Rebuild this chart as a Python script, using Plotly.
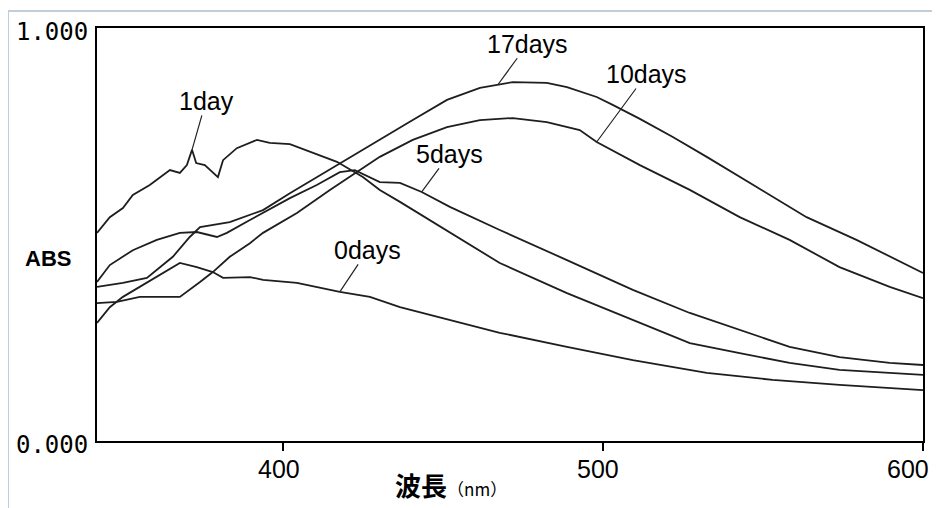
import numpy as np
import plotly.graph_objects as go

# ---- data (wavelength nm, ABS) ----
wl_0days = [341.8, 345.8, 349.9, 360.5, 367.7, 373.0, 378.0, 381.2, 389.6, 393.7, 404.3,
            417.7, 427.1, 436.5, 452.1, 467.7, 488.7, 509.3, 532.4, 553.0, 573.9, 589.6, 600.0]
abs_0days = [0.286, 0.324, 0.349, 0.397, 0.431, 0.421, 0.409, 0.395, 0.397, 0.390, 0.383,
             0.361, 0.349, 0.324, 0.293, 0.262, 0.228, 0.196, 0.165, 0.148, 0.136, 0.128, 0.123]

wl_1day = [341.8, 345.8, 349.9, 353.0, 358.3, 364.6, 367.7, 369.9, 371.5, 372.8, 375.5, 379.6,
           381.2, 385.5, 391.8, 395.8, 402.1, 409.3, 416.8, 424.9, 430.2, 436.5, 452.1, 467.7,
           488.7, 509.3, 527.1, 542.7, 558.3, 573.9, 589.6, 600.0]
abs_1day = [0.504, 0.542, 0.564, 0.596, 0.620, 0.656, 0.649, 0.668, 0.705, 0.673, 0.668, 0.639,
            0.680, 0.709, 0.729, 0.722, 0.719, 0.697, 0.676, 0.639, 0.608, 0.579, 0.504, 0.431,
            0.358, 0.293, 0.237, 0.213, 0.189, 0.172, 0.165, 0.160]

wl_5days = [341.8, 345.8, 353.0, 360.5, 367.7, 373.0, 379.3, 382.4, 389.6, 393.7, 402.1, 410.5,
            417.7, 422.4, 430.2, 436.5, 443.3, 452.1, 467.7, 488.7, 509.3, 527.1, 542.7, 558.3,
            573.9, 589.6, 600.0]
abs_5days = [0.385, 0.426, 0.462, 0.487, 0.504, 0.506, 0.494, 0.504, 0.535, 0.552, 0.588, 0.620,
             0.651, 0.656, 0.627, 0.625, 0.603, 0.567, 0.511, 0.438, 0.366, 0.310, 0.269, 0.228,
             0.203, 0.189, 0.184]

wl_10days = [341.8, 348.0, 355.2, 367.7, 374.0, 378.0, 383.3, 389.6, 393.7, 404.3, 414.6, 420.8,
             430.2, 440.5, 451.2, 461.5, 471.8, 482.4, 492.7, 498.0, 511.5, 527.1, 542.7, 558.3,
             573.9, 589.6, 600.0]
abs_10days = [0.334, 0.337, 0.349, 0.349, 0.385, 0.409, 0.446, 0.479, 0.504, 0.552, 0.608, 0.639,
              0.688, 0.729, 0.760, 0.777, 0.782, 0.772, 0.753, 0.724, 0.668, 0.608, 0.542, 0.487,
              0.421, 0.373, 0.346]

wl_17days = [341.8, 349.9, 357.4, 365.5, 370.8, 374.0, 383.3, 393.7, 402.1, 410.5, 417.7, 424.9,
             430.2, 440.5, 451.2, 461.5, 471.8, 482.4, 488.7, 498.0, 503.0, 511.5, 521.8, 532.4,
             548.0, 563.6, 579.2, 589.6, 600.0]
abs_17days = [0.373, 0.383, 0.395, 0.446, 0.494, 0.518, 0.530, 0.559, 0.600, 0.639, 0.673, 0.705,
              0.729, 0.777, 0.826, 0.855, 0.869, 0.867, 0.857, 0.833, 0.814, 0.780, 0.736, 0.688,
              0.615, 0.542, 0.487, 0.446, 0.407]

series_names = ["0days", "1day", "5days", "10days", "17days"]
label_nm = [417.7, 371.5, 443.3, 498.0, 467.1]   # wavelength where each leader line touches

x_tickvals = [400, 500, 600]
x_ticktext = ["400", "500", "600"]
y_tickvals = [0, 1]
y_ticktext = ["0.000", "1.000"]
x_title = "波長"
x_unit = "（nm）"
y_title = "ABS"

series = {
    "0days": (wl_0days, abs_0days),
    "1day": (wl_1day, abs_1day),
    "5days": (wl_5days, abs_5days),
    "10days": (wl_10days, abs_10days),
    "17days": (wl_17days, abs_17days),
}

fig = go.Figure()
for name in series_names:
    xs, ys = series[name]
    fig.add_trace(go.Scatter(x=xs, y=ys, mode="lines", name=name,
                             line=dict(color="#1e1e1e", width=1.8), showlegend=False,
                             hoverinfo="skip"))

# label text offsets (pixels from the touched point to the text centre)
offsets = {"1day": (14, -49), "17days": (30, -41), "10days": (50, -68),
           "5days": (28, -38), "0days": (28, -42)}
label_font = dict(family="Liberation Sans, Arial, sans-serif", size=25, color="black")
for name, nm in zip(series_names, label_nm):
    xs, ys = series[name]
    yv = float(np.interp(nm, xs, ys))
    ax, ay = offsets[name]
    fig.add_annotation(x=nm, y=yv, xref="x", yref="y", text=name, showarrow=True,
                       arrowhead=0, arrowwidth=1.2, arrowcolor="#222", ax=ax, ay=ay,
                       font=label_font, standoff=0, borderpad=0)

# x tick labels drawn as text under the tick marks (the last one sits left of its tick)
tick_font = dict(family="Liberation Sans, Arial, sans-serif", size=25, color="black")
tick_style = {400: ("center", -4), 500: ("center", -5), 600: ("right", 8)}
for v, t in zip(x_tickvals, x_ticktext):
    anchor, dx = tick_style[v]
    fig.add_annotation(x=v, y=0, xref="x", yref="paper", text=t, showarrow=False,
                       xanchor=anchor, yanchor="top", xshift=dx, yshift=-12, font=tick_font)

# y axis title and x axis title as free text
fig.add_annotation(x=-0.0593, y=0.4407, xref="paper", yref="paper", text="<b>" + y_title + "</b>",
                   showarrow=False, xanchor="center", yanchor="middle",
                   font=dict(family="Liberation Sans, Arial, sans-serif", size=22, color="black"))
fig.add_annotation(x=0.429, y=-0.1065, xref="paper", yref="paper",
                   text="<b>" + x_title + "</b><span style='font-size:17px'>" + x_unit + "</span>",
                   showarrow=False, xanchor="center", yanchor="middle",
                   font=dict(family="Noto Sans CJK JP, sans-serif", size=26, color="black"))

# light page border (left and top)
fig.add_shape(type="path", xref="paper", yref="paper",
              path="M -0.1077,-0.2 L -0.1077,1.0412 L 1.05,1.0412",
              line=dict(color="#c3cdd9", width=2))

fig.update_xaxes(range=[341.8, 600], tickvals=x_tickvals, showticklabels=False,
                 ticks="outside", ticklen=8, tickwidth=1.5, tickcolor="black",
                 showline=True, linecolor="black", linewidth=2, mirror=True,
                 showgrid=False, zeroline=False, automargin=False)
fig.update_yaxes(range=[0, 1], tickvals=y_tickvals, ticktext=y_ticktext, ticks="",
                 showline=True, linecolor="black", linewidth=2, mirror=True,
                 showgrid=False, zeroline=False, ticklabelstandoff=2, ticklabelshift=4,
                 automargin=False,
                 tickfont=dict(family="DejaVu Sans Mono, monospace", size=24, color="black"))

# the page places the figure 8 px in from the window corner, so the figure is made smaller
fig.update_layout(width=932, height=500, margin=dict(l=89, r=17, t=20, b=67, autoexpand=False),
                  paper_bgcolor="white", plot_bgcolor="white")

fig.write_html("out.html")
